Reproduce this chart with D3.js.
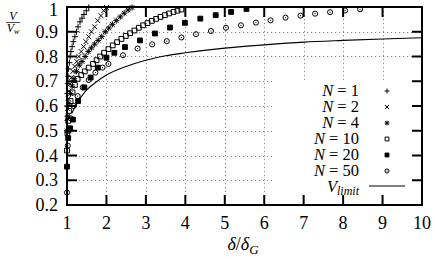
<!DOCTYPE html>
<html><head><meta charset="utf-8">
<script src="https://cdn.jsdelivr.net/npm/d3@7"></script>
<style>
body{margin:0;background:#fff;}
svg{display:block;}
svg text{font-family:"Liberation Serif","DejaVu Serif",serif !important;}
</style></head><body>
<svg id="c" width="436" height="257"></svg>
<script>
const xTicks = [1,2,3,4,5,6,7,8,9,10];
const yTicks = [0.2,0.3,0.4,0.5,0.6,0.7,0.8,0.9,1];
const legendLabels = ["1","2","4","10","20","50"];

const seriesN1 = [[1.0,0.60],[1.01,0.65],[1.02,0.69],[1.03,0.72],[1.04,0.75],[1.06,0.775],[1.08,0.80],[1.1,0.82],[1.13,0.84],[1.16,0.86],[1.2,0.88],[1.24,0.90],[1.28,0.92],[1.33,0.94],[1.38,0.955],[1.43,0.97],[1.49,0.985],[1.55,0.998]];
const seriesN2 = [[1.0,0.55],[1.01,0.59],[1.03,0.63],[1.05,0.66],[1.08,0.69],[1.11,0.715],[1.15,0.74],[1.2,0.76],[1.25,0.78],[1.3,0.80],[1.36,0.82],[1.42,0.84],[1.48,0.86],[1.55,0.88],[1.62,0.90],[1.7,0.92],[1.78,0.945],[1.86,0.965],[1.93,0.985],[2.0,0.998]];
const seriesN4 = [[1.0,0.5],[1.02,0.56],[1.05,0.61],[1.09,0.65],[1.13,0.68],[1.18,0.71],[1.24,0.74],[1.31,0.765],[1.38,0.78],[1.46,0.8],[1.54,0.82],[1.62,0.835],[1.7,0.85],[1.79,0.865],[1.88,0.88],[1.97,0.9],[2.06,0.915],[2.15,0.93],[2.25,0.945],[2.35,0.96],[2.45,0.975],[2.55,0.988],[2.65,0.998]];
const seriesN10 = [[1.0,0.42],[1.01,0.49],[1.03,0.54],[1.05,0.58],[1.09,0.62],[1.14,0.655],[1.2,0.685],[1.27,0.71],[1.36,0.725],[1.45,0.74],[1.55,0.755],[1.66,0.77],[1.75,0.785],[1.84,0.80],[1.94,0.815],[2.05,0.83],[2.16,0.845],[2.27,0.858],[2.38,0.871],[2.49,0.883],[2.6,0.894],[2.71,0.905],[2.82,0.916],[2.93,0.926],[3.04,0.935],[3.15,0.944],[3.26,0.952],[3.37,0.96],[3.48,0.967],[3.59,0.974],[3.7,0.98],[3.8,0.985],[3.9,0.99]];
const seriesN20 = [[1.0,0.355],[1.03,0.47],[1.08,0.51],[1.15,0.545],[1.28,0.62],[1.44,0.675],[1.6,0.715],[1.78,0.755],[2.0,0.795],[2.2,0.815],[2.47,0.838],[2.85,0.865],[3.23,0.893],[3.61,0.917],[3.99,0.936],[4.38,0.953],[4.77,0.967],[5.16,0.98],[5.55,0.992]];
const seriesN50 = [[1.0,0.25],[1.02,0.44],[1.05,0.5],[1.1,0.55],[1.17,0.6],[1.27,0.64],[1.4,0.675],[1.55,0.705],[1.72,0.735],[1.9,0.755],[2.05,0.77],[2.42,0.805],[2.79,0.832],[3.16,0.849],[3.53,0.862],[3.9,0.877],[4.27,0.89],[4.65,0.903],[5.03,0.916],[5.41,0.926],[5.79,0.937],[6.16,0.946],[6.54,0.957],[6.92,0.965],[7.29,0.973],[7.67,0.979],[8.05,0.986],[8.43,0.991]];
const vLimit = [[1.12,0.57],[1.2,0.596],[1.35,0.635],[1.5,0.665],[1.75,0.698],[2.0,0.725],[2.5,0.76],[3.0,0.785],[3.5,0.803],[4.0,0.815],[5.0,0.834],[6.0,0.847],[7.0,0.858],[8.0,0.865],[9.0,0.871],[10.0,0.876]];

const svg = d3.select("#c");
const L = 67, R = 422, T = 7, B = 205;
const x = d3.scaleLinear().domain([1,10]).range([L,R]);
const y = d3.scaleLinear().domain([0.2,1]).range([B,T]);

const box = {x0:272, y0:80};

const g = svg.append("g").attr("stroke","#888").attr("stroke-width",1).attr("stroke-dasharray","1.2,2.8");
xTicks.filter(v=>v>1&&v<10).forEach(v=>{
  const px = Math.round(x(v))+0.5;
  const yEnd = px>box.x0 ? box.y0 : B;
  g.append("line").attr("x1",px).attr("x2",px).attr("y1",T).attr("y2",yEnd);
});
yTicks.filter(v=>v>0.2&&v<1).forEach(v=>{
  const py = Math.round(y(v))+0.5;
  const xEnd = py>box.y0 ? box.x0 : R;
  g.append("line").attr("x1",L).attr("x2",xEnd).attr("y1",py).attr("y2",py);
});

function markerPath(type, s){
  switch(type){
    case "plus": return `M${-s},0H${s}M0,${-s}V${s}`;
    case "cross": return `M${-s*0.8},${-s*0.8}L${s*0.8},${s*0.8}M${-s*0.8},${s*0.8}L${s*0.8},${-s*0.8}`;
    case "star": return `M${-s},0H${s}M0,${-s}V${s}M${-s*0.75},${-s*0.75}L${s*0.75},${s*0.75}M${-s*0.75},${s*0.75}L${s*0.75},${-s*0.75}`;
    case "sq": case "fsq": return `M${-s*0.8},${-s*0.8}H${s*0.8}V${s*0.8}H${-s*0.8}Z`;
    case "circ": return `M${s*0.85},0A${s*0.85},${s*0.85} 0 1 1 ${-s*0.85},0A${s*0.85},${s*0.85} 0 1 1 ${s*0.85},0Z`;
  }
}
function drawMarker(sel, type, s){
  sel.append("path").attr("d", markerPath(type,s))
    .attr("fill", type==="fsq" ? "#000" : "none")
    .attr("stroke","#000").attr("stroke-width",1);
  if(type==="circ") sel.append("circle").attr("r",0.6).attr("fill","#000");
}

const allSeries = [
  {data:seriesN1, type:"plus"},
  {data:seriesN2, type:"cross"},
  {data:seriesN4, type:"star"},
  {data:seriesN10, type:"sq"},
  {data:seriesN20, type:"fsq"},
  {data:seriesN50, type:"circ"}
];

const line = d3.line().x(d=>x(d[0])).y(d=>y(d[1])).curve(d3.curveMonotoneX);
svg.append("path").datum(vLimit).attr("d",line).attr("fill","none").attr("stroke","#000").attr("stroke-width",1.1);

allSeries.forEach(sr=>{
  sr.data.forEach(d=>{
    const m = svg.append("g").attr("transform",`translate(${x(d[0])},${y(d[1])})`);
    drawMarker(m, sr.type, 3);
  });
});

svg.append("rect").attr("x",box.x0).attr("y",box.y0+2).attr("width",R-box.x0-1).attr("height",B-box.y0-3).attr("fill","#fff");

const fr = svg.append("g").attr("stroke","#000").attr("stroke-width",2).attr("fill","none");
fr.append("rect").attr("x",L).attr("y",T).attr("width",R-L).attr("height",B-T);
const tl = 10;
xTicks.filter(v=>v>1&&v<10).forEach(v=>{
  const px = x(v);
  fr.append("line").attr("x1",px).attr("x2",px).attr("y1",B).attr("y2",B-tl);
  fr.append("line").attr("x1",px).attr("x2",px).attr("y1",T).attr("y2",T+tl);
});
yTicks.filter(v=>v>0.2&&v<1).forEach(v=>{
  const py = y(v);
  fr.append("line").attr("x1",L).attr("x2",L+tl).attr("y1",py).attr("y2",py);
  fr.append("line").attr("x1",R).attr("x2",R-tl).attr("y1",py).attr("y2",py);
});

xTicks.forEach(v=>{
  svg.append("text").attr("x",x(v)).attr("y",229).attr("text-anchor","middle").attr("font-size",18).text(v);
});
yTicks.forEach(v=>{
  svg.append("text").attr("x",58).attr("y",v===1?16:y(v)+6).attr("text-anchor","end").attr("font-size",18).text(v===1?"1":d3.format(".1f")(v));
});

const xl = svg.append("text").attr("x",243).attr("y",250).attr("text-anchor","middle").attr("font-size",18);
xl.append("tspan").attr("font-style","italic").text("δ");
xl.append("tspan").text("/");
xl.append("tspan").attr("font-style","italic").text("δ");
xl.append("tspan").attr("font-style","italic").attr("font-size",13).attr("dy",4).text("G");

svg.append("text").attr("x",13).attr("y",20).attr("text-anchor","middle").attr("font-size",12).attr("font-style","italic").text("V");
svg.append("line").attr("x1",6).attr("x2",20).attr("y1",22.5).attr("y2",22.5).attr("stroke","#000").attr("stroke-width",0.7);
const yl = svg.append("text").attr("x",13).attr("y",32).attr("text-anchor","middle").attr("font-size",12).attr("font-style","italic");
yl.append("tspan").text("V");
yl.append("tspan").attr("font-size",8).attr("dy",2).text("w");

const lx = 359, sx = 387, ly0 = 96, dy = 16;
legendLabels.forEach((lab,i)=>{
  const t = svg.append("text").attr("x",lx).attr("y",ly0+i*dy).attr("text-anchor","end").attr("font-size",16.5);
  t.append("tspan").attr("font-style","italic").text("N");
  t.append("tspan").text(" = "+lab);
  const m = svg.append("g").attr("transform",`translate(${sx},${ly0+i*dy-5})`);
  drawMarker(m, allSeries[i].type, 2.4);
});
const vt = svg.append("text").attr("x",lx).attr("y",ly0+6*dy).attr("text-anchor","end").attr("font-size",16.5).attr("font-style","italic");
vt.append("tspan").text("V");
vt.append("tspan").attr("font-size",12).attr("dy",3).text("limit");
svg.append("line").attr("x1",369).attr("x2",405).attr("y1",ly0+6*dy-6).attr("y2",ly0+6*dy-6).attr("stroke","#000").attr("stroke-width",1.1);
</script>
</body></html>
